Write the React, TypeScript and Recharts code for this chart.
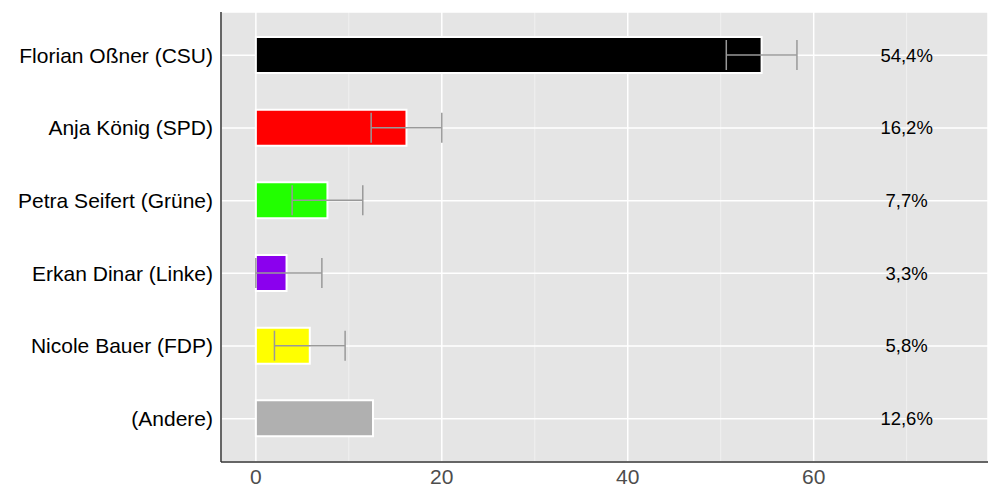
import React from "react";
import {
  BarChart,
  Bar,
  XAxis,
  YAxis,
  CartesianGrid,
  ErrorBar,
  Cell,
  LabelList,
} from "recharts";

const candidates = [
  "Florian Oßner (CSU)",
  "Anja König (SPD)",
  "Petra Seifert (Grüne)",
  "Erkan Dinar (Linke)",
  "Nicole Bauer (FDP)",
  "(Andere)",
];
const shares = [54.4, 16.2, 7.7, 3.3, 5.8, 12.6];
const errors: (number[] | null)[] = [
  [3.8, 3.8],
  [3.8, 3.8],
  [3.8, 3.8],
  [3.3, 3.8],
  [3.8, 3.8],
  null,
];
const shareLabels = ["54,4%", "16,2%", "7,7%", "3,3%", "5,8%", "12,6%"];
const colors = ["#000000", "#FF0000", "#22FF00", "#8B00EE", "#FFFF00", "#B0B0B0"];
const xDomain = [-3.75, 78.75];
const xTicks = [0, 20, 40, 60];
const minorTicks = [10, 30, 50, 70];
const labelPosition = 70;

const data = candidates.map((name, i) => ({
  name,
  value: shares[i],
  err: errors[i],
  label: shareLabels[i],
}));

const FONT = "'Liberation Sans', Arial, Helvetica, sans-serif";

const PercentLabel = (props: any) => {
  const { x, y, width, height, index } = props;
  const v = shares[index];
  const perUnit = width / v;
  const lx = x + labelPosition * perUnit;
  return (
    <text
      x={lx}
      y={y + height / 2}
      textAnchor="middle"
      dominantBaseline="central"
      fill="#000"
      fontSize={18.5}
      fontFamily={FONT}
    >
      {shareLabels[index]}
    </text>
  );
};

const minorGen = (props: any) => {
  const s = props && props.xAxis && props.xAxis.scale;
  if (typeof s === "function") return minorTicks.map((t) => s(t));
  if (s && typeof s.map === "function") return minorTicks.map((t) => s.map(t));
  const off = props && props.offset;
  if (!off) return [];
  return minorTicks.map(
    (t) => off.left + ((t - xDomain[0]) / (xDomain[1] - xDomain[0])) * off.width
  );
};

export default function App() {
  return (
    <div style={{ position: "absolute", left: 0, top: 0, width: 1000, height: 500, background: "#fff" }}>
      <BarChart
        width={1000}
        height={500}
        data={data}
        layout="vertical"
        margin={{ top: 12, right: 12, bottom: 0, left: 0 }}
        barCategoryGap={0}
      >
        <CartesianGrid
          fill="#E5E5E5"
          stroke="#F0F0F0"
          strokeWidth={1}
          horizontal={false}
          verticalCoordinatesGenerator={minorGen}
        />
        <CartesianGrid stroke="#FFFFFF" strokeWidth={1.5} />
        <XAxis
          type="number"
          domain={xDomain}
          ticks={xTicks}
          allowDataOverflow
          height={38}
          tickLine={false}
          tickSize={5}
          axisLine={{ stroke: "#333333", strokeWidth: 1.5 }}
          tick={{ fill: "#4D4D4D", fontSize: 21, fontFamily: FONT }}
        />
        <YAxis
          type="category"
          dataKey="name"
          width={221}
          padding={{ top: 7, bottom: 7 }}
          tickLine={false}
          tickSize={6}
          axisLine={{ stroke: "#333333", strokeWidth: 1.5 }}
          tick={{ fill: "#000000", fontSize: 21, fontFamily: FONT }}
        />
        <Bar
          dataKey="value"
          barSize={36}
          stroke="#FFFFFF"
          strokeWidth={2}
          isAnimationActive={false}
        >
          {data.map((d, i) => (
            <Cell key={d.name} fill={colors[i]} />
          ))}
          <ErrorBar dataKey="err" direction="x" width={15} stroke="#999999" strokeWidth={1.5} />
          <LabelList dataKey="label" content={<PercentLabel />} />
        </Bar>
      </BarChart>
    </div>
  );
}
